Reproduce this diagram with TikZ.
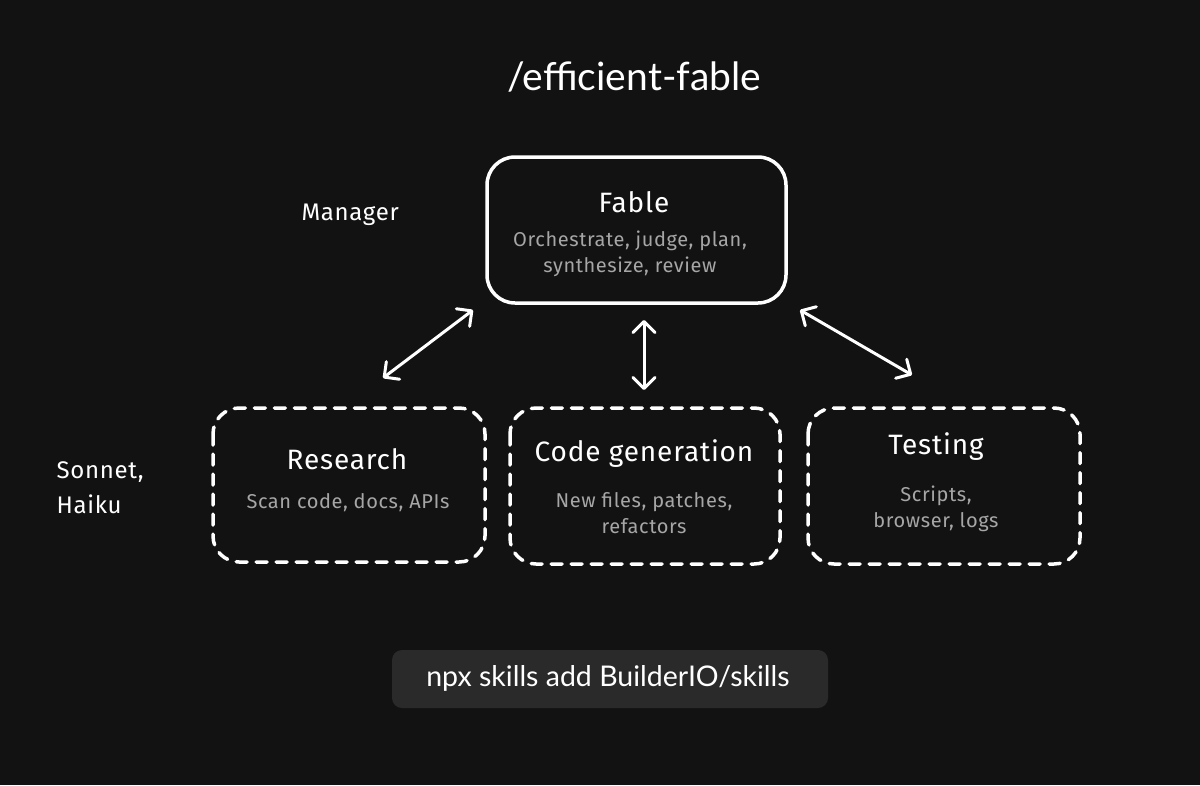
\documentclass[tikz,border=0pt]{standalone}
\usepackage{fontspec}
\setmainfont{Lato}
\newfontfamily\handfont[LetterSpace=3]{Fira Sans}
\usetikzlibrary{arrows.meta}
\definecolor{bg}{HTML}{121212}
\definecolor{subgray}{HTML}{A6A6A6}
\definecolor{btn}{HTML}{2A2A2A}
\tikzset{
  x=1pt, y=-1pt,
  mainbox/.style={draw=white, line width=3.5pt, rounded corners=28pt},
  workerbox/.style={draw=white, line width=3.5pt, rounded corners=26pt, dash pattern=on 11pt off 9pt, line cap=round},
  ttl/.style={text=white, font=\handfont\fontsize{28}{32}\selectfont, anchor=center},
  sub/.style={text=subgray, font=\handfont\fontsize{20}{26}\selectfont, align=center, anchor=center},
  lbl/.style={text=white, font=\handfont\fontsize{24}{35}\selectfont},
  link/.style={draw=white, line width=3pt, line cap=round, {Straight Barb[round,length=11pt,width=22pt]}-{Straight Barb[round,length=11pt,width=22pt]}},
}
\begin{document}
\begin{tikzpicture}
\fill[bg] (0,0) rectangle (1200,785);
\useasboundingbox (0,0) rectangle (1200,785);

\node[text=white, font=\fontsize{39}{44}\selectfont] (title) at (634,77) {/efficient-fable};

% manager
\draw[mainbox] (487,157) rectangle (786,303);
\node[ttl] (fable) at (634,202) {Fable};
\node[sub] (fablesub) at (630,254) {Orchestrate, judge, plan,\\synthesize, review};
\coordinate (fableSW) at (473,310);
\coordinate (fableS) at (644,320);
\coordinate (fableSE) at (800,310);

\node[lbl, anchor=west] (manager) at (298,215) {Manager};

% workers
\draw[workerbox] (213,408) rectangle (485,562);
\node[ttl] (research) at (347,459) {Research};
\node[sub] (researchsub) at (348,503) {Scan code, docs, APIs};
\coordinate (researchN) at (383,378);

\draw[workerbox] (510,408) rectangle (780,564);
\node[ttl] (codegen) at (644,454) {Code generation};
\node[sub] (codegensub) at (644,513) {New files, patches,\\refactors};
\coordinate (codegenN) at (644,390);

\draw[workerbox] (808,408) rectangle (1080,564);
\node[ttl] (testing) at (936,447) {Testing};
\node[sub] (testingsub) at (936,509) {Scripts,\\browser, logs};
\coordinate (testingN) at (912,375);

\node[lbl, anchor=west, align=left] (workers) at (53,488) {Sonnet,\\Haiku};

% connectors
\draw[link] (researchN) -- (fableSW);
\draw[link] (codegenN) -- (fableS);
\draw[link] (testingN) -- (fableSE);

% command button
\fill[btn, rounded corners=10pt] (392,650) rectangle (828,708);
\node[text=white, font=\fontsize{28.5}{32}\selectfont] (cmd) at (608,678) {npx skills add BuilderIO/skills};
\end{tikzpicture}
\end{document}
